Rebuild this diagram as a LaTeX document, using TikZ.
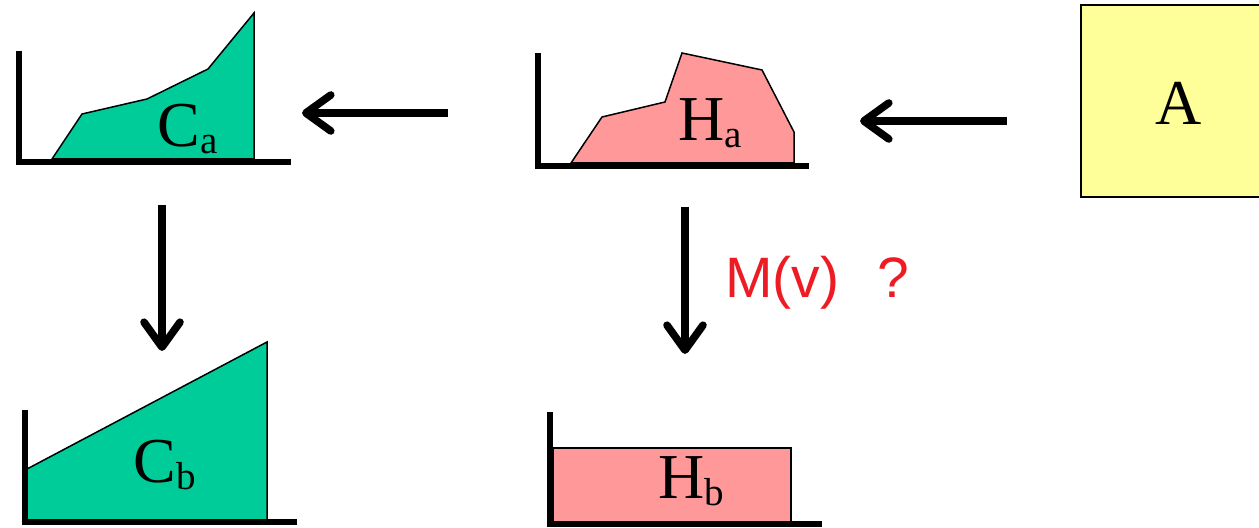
\documentclass[tikz,border=0pt]{standalone}
\usepackage{fontspec}
\setmainfont{Liberation Serif}
\newfontfamily\sansf{Liberation Sans}
\usetikzlibrary{arrows.meta}
\definecolor{cgreen}{RGB}{0,204,153}
\definecolor{cpink}{RGB}{255,153,153}
\definecolor{cyellow}{RGB}{255,255,153}
\definecolor{cred}{RGB}{237,28,36}
\newcommand{\sublbl}[2]{#1\raisebox{-3.5pt}{\fontsize{19.5}{19.5}\selectfont #2}}
\begin{document}
\begin{tikzpicture}[x=0.5pt,y=-0.5pt,
  axis/.style={line width=3pt,line join=miter},
  shapeline/.style={draw=black,line width=0.75pt,line join=miter},
  flow/.style={line width=3.8pt,-{Straight Barb[length=12.5pt,width=18pt,round]}},
  lbl/.style={anchor=base west,inner sep=0pt,font=\fontsize{32}{32}\selectfont},
  redlbl/.style={anchor=base west,inner sep=0pt,text=cred,font=\sansf\fontsize{28.5}{28.5}\selectfont}]
\useasboundingbox (0,0) rectangle (1259,528);
\clip (0,0) rectangle (1259,528);
% Ca panel
\filldraw[shapeline,fill=cgreen] (52,159) -- (82,114) -- (147,99) -- (208,69) -- (254,13) -- (254,159) -- cycle;
\draw[axis] (18.5,51) -- (18.5,162.5) -- (291,162.5);
\node[lbl] (Ca) at (157,147) {\sublbl{C}{a}};
% Ha panel
\filldraw[shapeline,fill=cpink] (571,163) -- (602,117) -- (665,102) -- (682,53) -- (762,70) -- (794,132) -- (794,163) -- cycle;
\draw[axis] (538,53) -- (538,166) -- (809,166);
\node[lbl] (Ha) at (678,141) {\sublbl{H}{a}};
% A box
\filldraw[fill=cyellow,draw=black,line width=1pt] (1081,5) rectangle (1262,197);
\node[lbl] (A) at (1155,125) {A};
% Cb panel
\filldraw[shapeline,fill=cgreen] (27,469) -- (267,342) -- (267,520) -- (27,520) -- cycle;
\draw[axis] (24.5,410) -- (24.5,522.5) -- (297,522.5);
\node[lbl] (Cb) at (133,483) {\sublbl{C}{b}};
% Hb panel
\filldraw[shapeline,fill=cpink] (553,448) rectangle (791,522);
\draw[axis] (549.5,412) -- (549.5,524.5) -- (822,524.5);
\node[lbl] (Hb) at (658,499) {\sublbl{H}{b}};
% arrows
\coordinate (aS) at (1007,121); \coordinate (aE) at (860,121);
\coordinate (hS) at (448,113); \coordinate (hE) at (302,113);
\coordinate (cS) at (162,205); \coordinate (cE) at (162,351);
\coordinate (dS) at (685,207); \coordinate (dE) at (685,354);
\draw[flow] (aS) -- (aE);
\draw[flow] (hS) -- (hE);
\draw[flow] (cS) -- (cE);
\draw[flow] (dS) -- (dE);
\node[redlbl] (M) at (725,298) {M(v)\hspace{19pt}?};
\end{tikzpicture}
\end{document}
